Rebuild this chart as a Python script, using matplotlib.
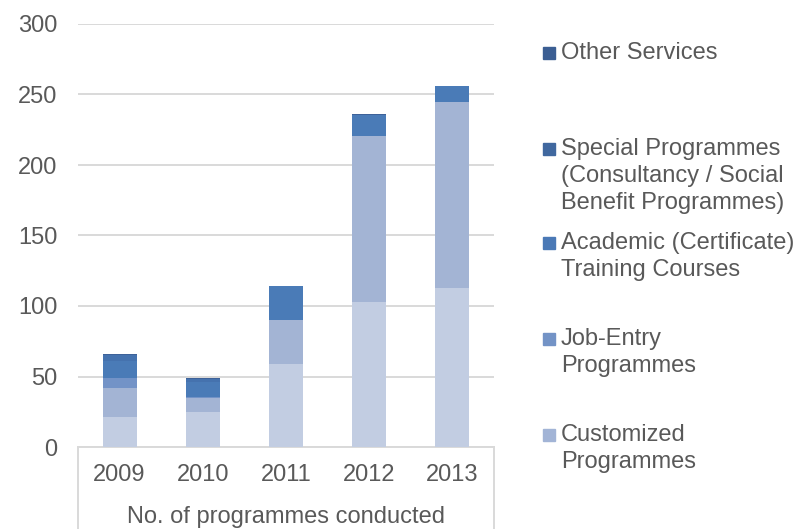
import matplotlib.pyplot as plt
from matplotlib.patches import Rectangle
import numpy as np

plt.rcParams['font.family'] = ['Liberation Sans', 'DejaVu Sans']

years = ['2009', '2010', '2011', '2012', '2013']
# stacked from the bottom up
base_programmes = [21, 25, 59, 103, 113]
customized = [21, 10, 31, 117.5, 131.5]
job_entry = [7, 0.5, 0, 0, 0]
academic = [12, 10.5, 24, 15, 11.5]
special = [4, 2, 0, 0, 0]
other_services = [1, 1, 0.3, 1, 0]

series = [base_programmes, customized, job_entry, academic, special, other_services]
colors = ['#c2cde2', '#a3b4d4', '#7393c7', '#4a7bb7', '#4572ae', '#3e6299']

legend_entries = [
    ('#3b5e93', ['Other Services'], 53),
    ('#40689f', ['Special Programmes', '(Consultancy / Social', 'Benefit Programmes)'], 149),
    ('#4a79b6', ['Academic (Certificate)', 'Training Courses'], 243),
    ('#7393c6', ['Job-Entry', 'Programmes'], 339),
    ('#a2b4d6', ['Customized', 'Programmes'], 435),
]

text_color = '#595959'
grid_color = '#d9d9d9'
fs = 17

W, H = 797, 529
fig = plt.figure(figsize=(W / 100, H / 100), dpi=100)
ax = fig.add_axes([78 / W, (H - 447) / H, (494 - 78) / W, (447 - 24) / H])

x = np.arange(len(years))
bottom = np.zeros(len(years))
for vals, c in zip(series, colors):
    ax.bar(x, vals, width=0.41, bottom=bottom, color=c, linewidth=0, zorder=3)
    bottom += np.array(vals)

ax.set_xlim(-0.5, len(years) - 0.5)
ax.set_ylim(0, 300)
ax.set_yticks(range(0, 301, 50))
ax.yaxis.grid(True, color=grid_color, linewidth=1.4, zorder=0)
ax.tick_params(axis='y', length=0, pad=15, labelsize=fs, labelcolor=text_color)
ax.set_xticks([])
for s in ['top', 'right', 'left']:
    ax.spines[s].set_visible(False)
ax.spines['bottom'].set_color(grid_color)
ax.spines['bottom'].set_linewidth(1.4)

# category box below the plot
depth = -(H - 447) / (447 - 24)
for xa in (0, 1):
    ax.plot([xa, xa], [0, depth], transform=ax.transAxes, color=grid_color,
            linewidth=1.4, clip_on=False)
for i, yr in enumerate(years):
    ax.text(i, -28 / 1.41, yr, ha='center', va='center', fontsize=fs,
            color=text_color)
ax.text(0.5, -(517 - 447) / (447 - 24), 'No. of programmes conducted',
        transform=ax.transAxes, ha='center', va='center', fontsize=fs,
        color=text_color)

# legend
for color, lines, yc in legend_entries:
    fig.patches.append(Rectangle((543 / W, (H - yc - 6) / H), 12 / W, 12 / H,
                                 transform=fig.transFigure, color=color))
    for k, line in enumerate(lines):
        fig.text(561 / W, (H - yc - 27 * k) / H, line, ha='left', va='center',
                 fontsize=fs, color=text_color)

fig.savefig('out.png', dpi=100)
